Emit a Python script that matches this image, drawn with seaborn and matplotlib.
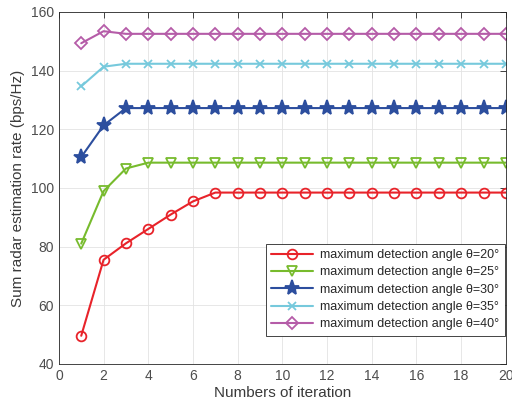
import numpy as np
import pandas as pd
import seaborn as sns
import matplotlib
matplotlib.use("Agg")
import matplotlib.pyplot as plt

# valeurs
iterations = list(range(1, 21))
rate_20 = [49.6, 75.5, 81.1, 86.0, 90.9, 95.4, 98.4] + [98.4] * 13
rate_25 = [81.0, 98.9, 106.6] + [108.6] * 17
rate_30 = [110.5, 121.3] + [127.2] * 18
rate_35 = [134.6, 141.3] + [142.3] * 18
rate_40 = [149.3, 153.4] + [152.5] * 18

labels = ["maximum detection angle θ=20°", "maximum detection angle θ=25°",
          "maximum detection angle θ=30°", "maximum detection angle θ=35°",
          "maximum detection angle θ=40°"]
series = [rate_20, rate_25, rate_30, rate_35, rate_40]
couleurs = ["#e8232a", "#77bb2d", "#2c4e9e", "#76c9dc", "#b55ca8"]
marqueurs = ["o", "v", "*", "x", "D"]
tailles = [7, 7, 11, 5.5, 6]
pleins = [False, False, True, False, False]

sns.set_style("white")
plt.rcParams["font.family"] = ["Liberation Sans", "DejaVu Sans"]
gris = "#262626"

fig = plt.figure(figsize=(5.12, 4.08), dpi=100)
ax = fig.add_axes([0.115, 0.108, 0.873, 0.863])

for lab, vals, c, m, s, p in zip(labels, series, couleurs, marqueurs, tailles, pleins):
    df = pd.DataFrame({"it": iterations, "val": vals})
    sns.lineplot(data=df, x="it", y="val", ax=ax, color=c, label=lab,
                 marker=m, markersize=s, linewidth=1.5,
                 markerfacecolor=c if p else "none", markeredgecolor=c,
                 markeredgewidth=1.3)

ax.set_xlim(0, 20)
ax.set_ylim(40, 160)
ax.set_xticks(np.arange(0, 21, 2))
ax.set_yticks(np.arange(40, 161, 20))
ax.grid(True, color="#e3e3e3", linewidth=0.6)
ax.tick_params(direction="in", top=True, right=True, labelsize=10,
               colors=gris, length=4, width=0.6)
for t in ax.get_xticklabels() + ax.get_yticklabels():
    t.set_color("#4d4d4d")
for sp in ax.spines.values():
    sp.set_color(gris)
    sp.set_linewidth(0.6)
ax.set_xlabel("Numbers of iteration", fontsize=11, color="#3a3a3a", labelpad=2)
ax.set_ylabel("Sum radar estimation rate (bps/Hz)", fontsize=11, color="#3a3a3a", labelpad=4)

leg = ax.legend(loc="lower right", bbox_to_anchor=(0.998, 0.08), fontsize=9,
                frameon=True, fancybox=False, framealpha=1, borderpad=0.45,
                labelspacing=0.42, handlelength=3.3, handletextpad=0.6,
                borderaxespad=0)
leg.get_frame().set_edgecolor(gris)
leg.get_frame().set_linewidth(0.6)
for t in leg.get_texts():
    t.set_color(gris)

fig.savefig("out.png", dpi=100)
